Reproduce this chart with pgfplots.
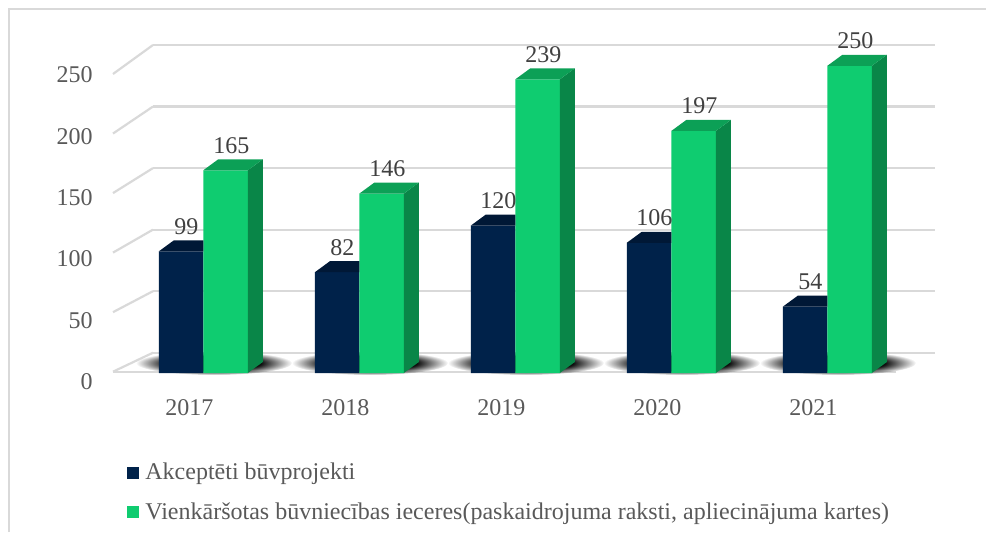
\documentclass[border=0pt]{standalone}
\usepackage{fontspec}
\setmainfont{Liberation Serif}
\usepackage{pgfplots}
\pgfplotsset{compat=1.18}
\usetikzlibrary{fadings}
\definecolor{navy}{RGB}{0,34,74}
\definecolor{navytop}{RGB}{0,24,54}
\definecolor{grn}{RGB}{15,204,112}
\definecolor{grntop}{RGB}{12,160,86}
\definecolor{grnside}{RGB}{9,134,72}
\definecolor{gridc}{RGB}{217,217,217}
\definecolor{tickc}{RGB}{89,89,89}
\definecolor{valc}{RGB}{64,64,64}
\pgfdeclareradialshading{shshade}{\pgfpointorigin}{color(0bp)=(white); color(15bp)=(white); color(25bp)=(black); color(50bp)=(black)}
\pgfdeclarefading{shadowfade}{\pgfuseshading{shshade}}
\pgfplotsset{
  % 3D top and side faces of the green bars
  facesg/.style={
    forget plot, only marks, scatter, mark=*, mark size=0pt,
    mark options={draw opacity=0, fill opacity=0},
    visualization depends on={rawy \as \rawy},
    scatter/@pre marker code/.code={%
      \pgfmathsetmacro\hh{\rawy*0.6144}%
      \fill[grnside, fill opacity=1] (22.25pt,0pt) -- ++(7.5pt,5.5pt) -- ++(0pt,-\hh pt) -- ++(-7.5pt,-5.5pt) -- cycle;
      \fill[grntop, fill opacity=1] (0pt,0pt) -- ++(22.25pt,0pt) -- ++(7.5pt,5.5pt) -- ++(-22.25pt,0pt) -- cycle;
    },
    scatter/@post marker code/.code={},
  },
  % visible part of the top face of the navy bars
  facesd/.style={
    forget plot, only marks, scatter, mark=*, mark size=0pt,
    mark options={draw opacity=0, fill opacity=0},
    scatter/@pre marker code/.code={%
      \fill[navytop, fill opacity=1] (-22.25pt,0pt) -- (0pt,0pt) -- (0pt,5.5pt) -- (-14.75pt,5.5pt) -- cycle;
    },
    scatter/@post marker code/.code={},
  },
  vals/.style={nodes near coords,
    every node near coord/.append style={anchor=center, xshift=#1, yshift=12.5pt, text=valc, font=\fontsize{12}{14}\selectfont}},
}
\begin{document}
\begin{tikzpicture}[font=\fontsize{12}{14}\selectfont]
\useasboundingbox (0,0) rectangle (493pt,266pt);
% back wall with grid
\begin{axis}[
  at={(76.5pt,89.65pt)}, anchor=south west,
  scale only axis, width=391pt, height=153.85pt,
  xmin=0, xmax=1, ymin=0, ymax=250,
  axis line style={draw=none},
  xtick=\empty, ytick={0,50,...,250}, yticklabels={},
  major tick length=0pt,
  ymajorgrids, grid style={gridc, line width=1.1pt},
]
\end{axis}
% left wall lines
\foreach \v in {0,50,...,250}{
  \draw[gridc, line width=1.1pt] ({56.5pt},{(266-0.5*(371.7-1.1908*\v))*1pt}) -- ({76.5pt},{(266-0.5*(352.7-1.2308*\v))*1pt});
}
% floor front line
\draw[gridc, line width=1.1pt] (56.5pt,80pt) -- (448pt,80pt);
% shadows
\foreach \i in {0,...,4}{
  \fill[black, fill opacity=0.95, path fading=shadowfade]
    ({(0.5*(214+156*\i))*1pt},84.5pt) ellipse (39pt and 6pt);
}
% bars
\begin{axis}[
  at={(56.5pt,79.5pt)}, anchor=south west,
  scale only axis, width=391.5pt, height=153.6pt,
  xmin=-0.579, xmax=4.44, ymin=0, ymax=250,
  clip=false,
  axis line style={draw=none},
  major tick length=0pt,
  xtick={0,...,4}, xticklabels={2017,2018,2019,2020,2021},
  ytick={0,50,...,250},
  /pgf/number format/assume math mode=true,
  ticklabel style={text=tickc, font=\fontsize{12}{14}\selectfont},
  yticklabel style={anchor=east, inner sep=0pt, xshift=-10pt, yshift=-4.5pt},
  xticklabel style={anchor=north, inner sep=0pt, xshift=-7pt, yshift=-13.3pt},
  legend style={at={(0.0179,-0.2848)}, anchor=north west, draw=none, fill=none,
    inner sep=0pt, row sep=8pt, nodes={inner sep=1pt, text=tickc},
    font=\fontsize{12}{14}\selectfont},
  legend cell align=left,
  legend image code/.code={\fill[#1] (0pt,-3pt) rectangle (6pt,3pt);},
]
\addplot[ybar, bar width=22.25pt, bar shift=-11.125pt, fill=navy, draw=none, vals=-8.5pt] coordinates {(0,99) (1,82) (2,120) (3,106) (4,54)};
\addlegendentry{\hspace{2pt}Akceptēti būvprojekti}
\addplot[facesd] coordinates {(0,99) (1,82) (2,120) (3,106) (4,54)};
\addplot[ybar, bar width=22.25pt, bar shift=11.125pt, fill=grn, draw=none, vals=14pt] coordinates {(0,165) (1,146) (2,239) (3,197) (4,250)};
\addlegendentry{\hspace{2pt}Vienkāršotas būvniecības ieceres(paskaidrojuma raksti, apliecinājuma kartes)}
\addplot[facesg] coordinates {(0,165) (1,146) (2,239) (3,197) (4,250)};
\end{axis}
% frame
\draw[gridc, line width=1pt] (4.5pt,0pt) -- (4.5pt,261.5pt) -- (493pt,261.5pt);
\end{tikzpicture}
\end{document}
